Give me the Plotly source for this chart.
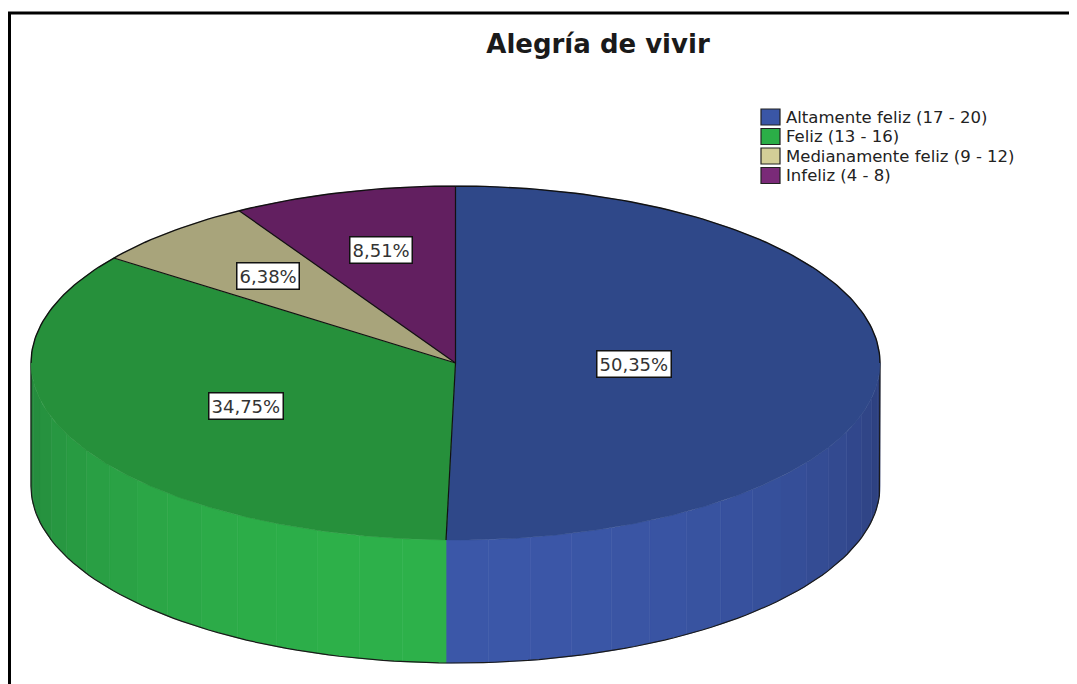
import numpy as np
import plotly.graph_objects as go

# ---- data ----
categories = ["Altamente feliz (17 - 20)", "Feliz (13 - 16)",
              "Medianamente feliz (9 - 12)", "Infeliz (4 - 8)"]
percentages = [50.35, 34.75, 6.38, 8.51]
label_texts = ["50,35%", "34,75%", "6,38%", "8,51%"]

# ---- styles ----
top_colors = ["#2f4889", "#26903b", "#a8a47b", "#621f60"]
side_dark = ["#2a3c77", "#23833a", "#8f8b64", "#4f1850"]
side_light = ["#3b57a8", "#2db14a", "#bdb98b", "#7a2a78"]
legend_colors = ["#3a56a6", "#2bae47", "#d3ce97", "#7a2a78"]
label_radius = [0.42, 0.55, 0.66, 0.66]

# page is 1077x684, body has an 8px margin -> figure covers 8..1077 / 8..684
OFF = 8
W, H = 1077 - OFF, 684 - OFF
CX, CY, RX, RY, DEPTH = 455.5, 363.0, 424.5, 177.0, 123.0
FONT = "DejaVu Sans"


def px(xp):
    return (xp - OFF) / W


def py(yp):
    return 1 - (yp - OFF) / H


def ell(theta_deg, yoff=0.0):
    t = np.radians(theta_deg)
    return CX + RX * np.sin(t), CY - RY * np.cos(t) + yoff


def mix(c1, c2, f):
    a = [int(c1[i:i + 2], 16) for i in (1, 3, 5)]
    b = [int(c2[i:i + 2], 16) for i in (1, 3, 5)]
    return "#%02x%02x%02x" % tuple(int(round(a[k] + (b[k] - a[k]) * f)) for k in range(3))


# slice angles (clockwise from 12 o'clock)
total = sum(percentages)
starts, ends = [], []
acc = 0.0
for p in percentages:
    starts.append(acc * 360 / total)
    acc += p
    ends.append(acc * 360 / total)

fig = go.Figure()

# ---- side walls (front half only: 90..270 deg) ----
for i in range(len(percentages)):
    a0, a1 = max(starts[i], 90.0), min(ends[i], 270.0)
    if a1 <= a0:
        continue
    nb = max(1, int(np.ceil((a1 - a0) / 6.0)))
    edges = np.linspace(a0, a1, nb + 1)
    for j in range(nb):
        b0, b1 = edges[j], edges[j + 1]
        th = np.linspace(b0, b1, 8)
        xt, yt = ell(th)
        xb, yb = ell(th[::-1], DEPTH)
        mid = np.radians((b0 + b1) / 2)
        f = max(0.0, -np.cos(mid)) ** 0.8
        col = mix(side_dark[i], side_light[i], f)
        fig.add_trace(go.Scatter(
            x=np.concatenate([xt, xb, xt[:1]]), y=np.concatenate([yt, yb, yt[:1]]),
            mode="lines", fill="toself", fillcolor=col, line=dict(width=0.6, color=col),
            hoverinfo="skip", showlegend=False))

# side outline
th = np.linspace(90, 270, 120)
xb, yb = ell(th, DEPTH)
xr, yr = ell(np.array([90.0]))
xl, yl = ell(np.array([270.0]))
fig.add_trace(go.Scatter(
    x=np.concatenate([xr, xb, xl]), y=np.concatenate([yr, yb, yl]),
    mode="lines", line=dict(color="#1a1a1a", width=1.2), hoverinfo="skip", showlegend=False))

# ---- top faces ----
for i in range(len(percentages)):
    th = np.linspace(starts[i], ends[i], max(4, int((ends[i] - starts[i]) * 2)))
    xt, yt = ell(th)
    fig.add_trace(go.Scatter(
        x=np.concatenate([[CX], xt, [CX]]), y=np.concatenate([[CY], yt, [CY]]),
        mode="lines", fill="toself", fillcolor=top_colors[i],
        line=dict(width=0.5, color=top_colors[i]),
        name=categories[i], hoverinfo="name", showlegend=False))

# radial boundaries
for a in starts:
    x1, y1 = ell(np.array([a]))
    fig.add_trace(go.Scatter(x=[CX, x1[0]], y=[CY, y1[0]], mode="lines",
                             line=dict(color="#111111", width=1.2),
                             hoverinfo="skip", showlegend=False))
# upper rim outline
th = np.linspace(-90, 90, 160)
xt, yt = ell(th)
fig.add_trace(go.Scatter(x=xt, y=yt, mode="lines", line=dict(color="#111111", width=1.4),
                         hoverinfo="skip", showlegend=False))

# ---- labels ----
for i in range(len(percentages)):
    mid = (starts[i] + ends[i]) / 2
    t = np.radians(mid)
    lx = CX + RX * label_radius[i] * np.sin(t)
    ly = CY - RY * label_radius[i] * np.cos(t)
    fig.add_annotation(x=lx, y=ly, xref="x", yref="y", text=label_texts[i], showarrow=False,
                       font=dict(family=FONT, size=18, color="#333333"),
                       bgcolor="white", bordercolor="#111111", borderwidth=1.5, borderpad=2)

# ---- legend (drawn manually for exact spacing) ----
LEG_X, LEG_Y0, LEG_DY = 761, 117, 19.5
for i, c in enumerate(categories):
    yc = LEG_Y0 + i * LEG_DY
    fig.add_shape(type="rect", xref="x", yref="y", x0=LEG_X, x1=LEG_X + 19, y0=yc - 8, y1=yc + 8,
                  fillcolor=legend_colors[i], line=dict(color="#222222", width=1.2))
    fig.add_annotation(x=LEG_X + 24, y=yc, xref="x", yref="y", text=c, showarrow=False,
                       xanchor="left", yanchor="middle", borderpad=0,
                       font=dict(family=FONT, size=16.5, color="#222222"))

# frame lines
fig.add_shape(type="line", xref="paper", yref="paper", x0=px(8), x1=1, y0=py(13), y1=py(13),
              line=dict(color="black", width=3))
fig.add_shape(type="line", xref="paper", yref="paper", x0=px(9.5), x1=px(9.5), y0=0, y1=py(12),
              line=dict(color="black", width=3))

fig.update_layout(
    width=W, height=H, margin=dict(l=0, r=0, t=0, b=0),
    paper_bgcolor="white", plot_bgcolor="white",
    title=dict(text="<b>Alegría de vivir</b>", x=px(598), xanchor="center", y=py(44), yanchor="middle",
               font=dict(family=FONT, size=26, color="#1a1a1a")),
    xaxis=dict(range=[OFF, OFF + W], visible=False, fixedrange=True, domain=[0, 1]),
    yaxis=dict(range=[OFF + H, OFF], visible=False, fixedrange=True, domain=[0, 1]),
    showlegend=False,
)

fig.write_html("out.html")
